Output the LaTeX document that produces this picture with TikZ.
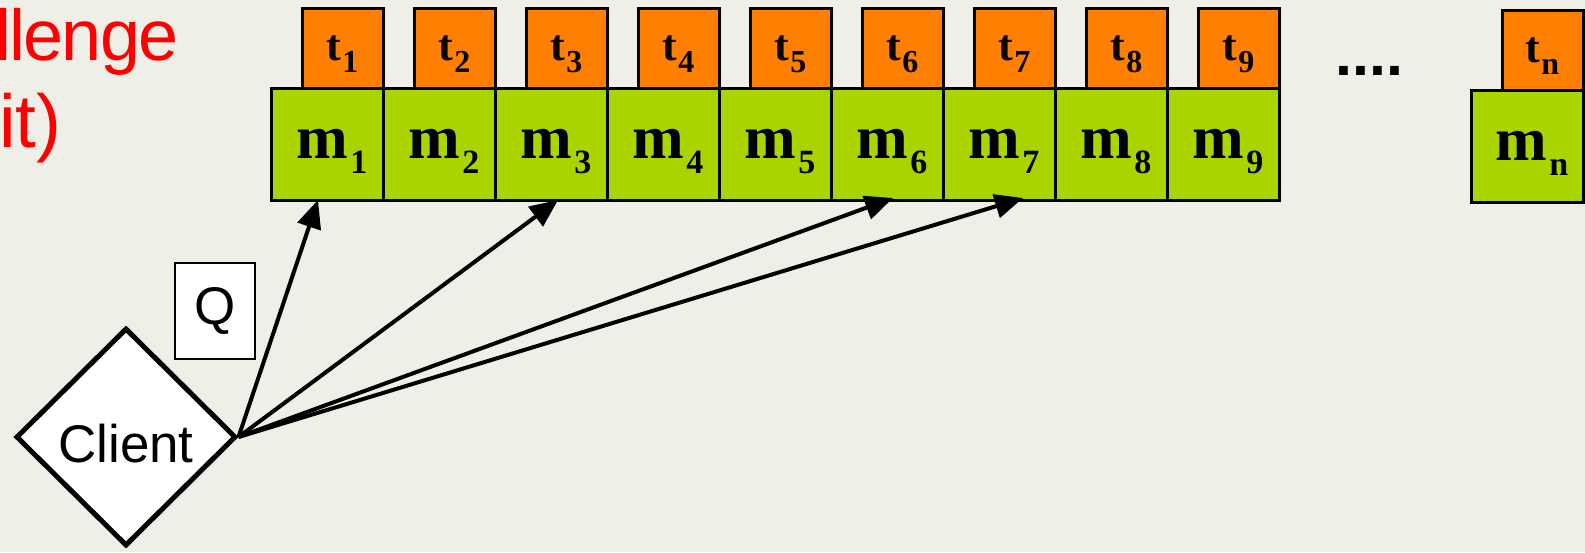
\documentclass[tikz,border=0pt]{standalone}
\usepackage{fontspec}
\setmainfont{Liberation Serif}
\newfontfamily\arialfont{Liberation Sans}
\newfontfamily\redfont[LetterSpace=-2.5]{Liberation Sans}
\usetikzlibrary{shapes.geometric,arrows.meta,positioning,calc}

\definecolor{bgcol}{RGB}{240,239,231}
\definecolor{tcol}{RGB}{255,128,0}
\definecolor{mcol}{RGB}{170,212,0}

\newcommand{\mlab}[1]{\kern10pt{\fontsize{62}{62}\selectfont\bfseries m}\kern2pt\raisebox{-15pt}{\fontsize{34}{34}\selectfont\bfseries #1}}
\newcommand{\tlab}[1]{{\fontsize{44}{44}\selectfont\bfseries t}\kern1pt\raisebox{-12pt}{\fontsize{32}{32}\selectfont\bfseries #1}}

\begin{document}
\begin{tikzpicture}[
    x=1pt, y=-1pt,
    mbox/.style={rectangle, draw=black, fill=mcol, line width=3pt, minimum width=112pt, minimum height=112pt, inner sep=0pt, outer sep=0pt, text height=28pt, text depth=0pt},
    tbox/.style={rectangle, draw=black, fill=tcol, line width=3pt, minimum width=81pt, minimum height=80pt, inner sep=0pt, outer sep=0pt, text height=24pt, text depth=0pt},
    sansbig/.style={font=\arialfont\fontsize{53}{53}\selectfont},
    arrow/.style={-{Triangle[length=28pt, width=24pt]}, line width=4pt, draw=black}
]
    \clip (0,0) rectangle (1585,552);
    \fill [bgcol] (0,0) rectangle (1585,552);

    % title fragment
    \node [anchor=base west, inner sep=0pt, text=red, font=\redfont\fontsize{72}{72}\selectfont] (title1) at (-5,60) {llenge};
    \node [anchor=base west, inner sep=0pt, text=red, font=\arialfont\fontsize{75}{75}\selectfont] (title2) at (-1,147) {it)};

    % message blocks and tags
    \foreach \i in {1,...,9} {
        \node [mbox] (m\i) at ({327+112*(\i-1)},144) {\mlab{\i}};
        \node [tbox, anchor=south east] (t\i) at (m\i.north east) {\tlab{\i}};
    }
    \node [anchor=base west, inner sep=0pt, font=\arialfont\bfseries\fontsize{61}{61}\selectfont] (dots) at (1335,75) {....};
    \node [mbox] (mn) at (1527,146) {\mlab{n}};
    \node [tbox, anchor=south east] (tn) at (mn.north east) {\tlab{n}};

    % client and challenge
    \node [diamond, draw=black, fill=white, line width=5pt, minimum width=220pt, minimum height=218pt, inner sep=0pt, text height=50pt, text depth=0pt, sansbig] (client) at (126,437) {Client};
    \node [rectangle, draw=black, fill=white, line width=2pt, minimum width=80pt, minimum height=96pt, inner sep=0pt, sansbig] (q) at (215,311) {Q};

    \draw [arrow] (client.east) -- ($(m1.south)+(-9,0)$);
    \draw [arrow] (client.east) -- ($(m3.south)+(7,0)$);
    \draw [arrow] (client.east) -- ($(m6.south)+(6,-2)$);
    \draw [arrow] (client.east) -- ($(m7.south)+(24,-2)$);
\end{tikzpicture}
\end{document}
